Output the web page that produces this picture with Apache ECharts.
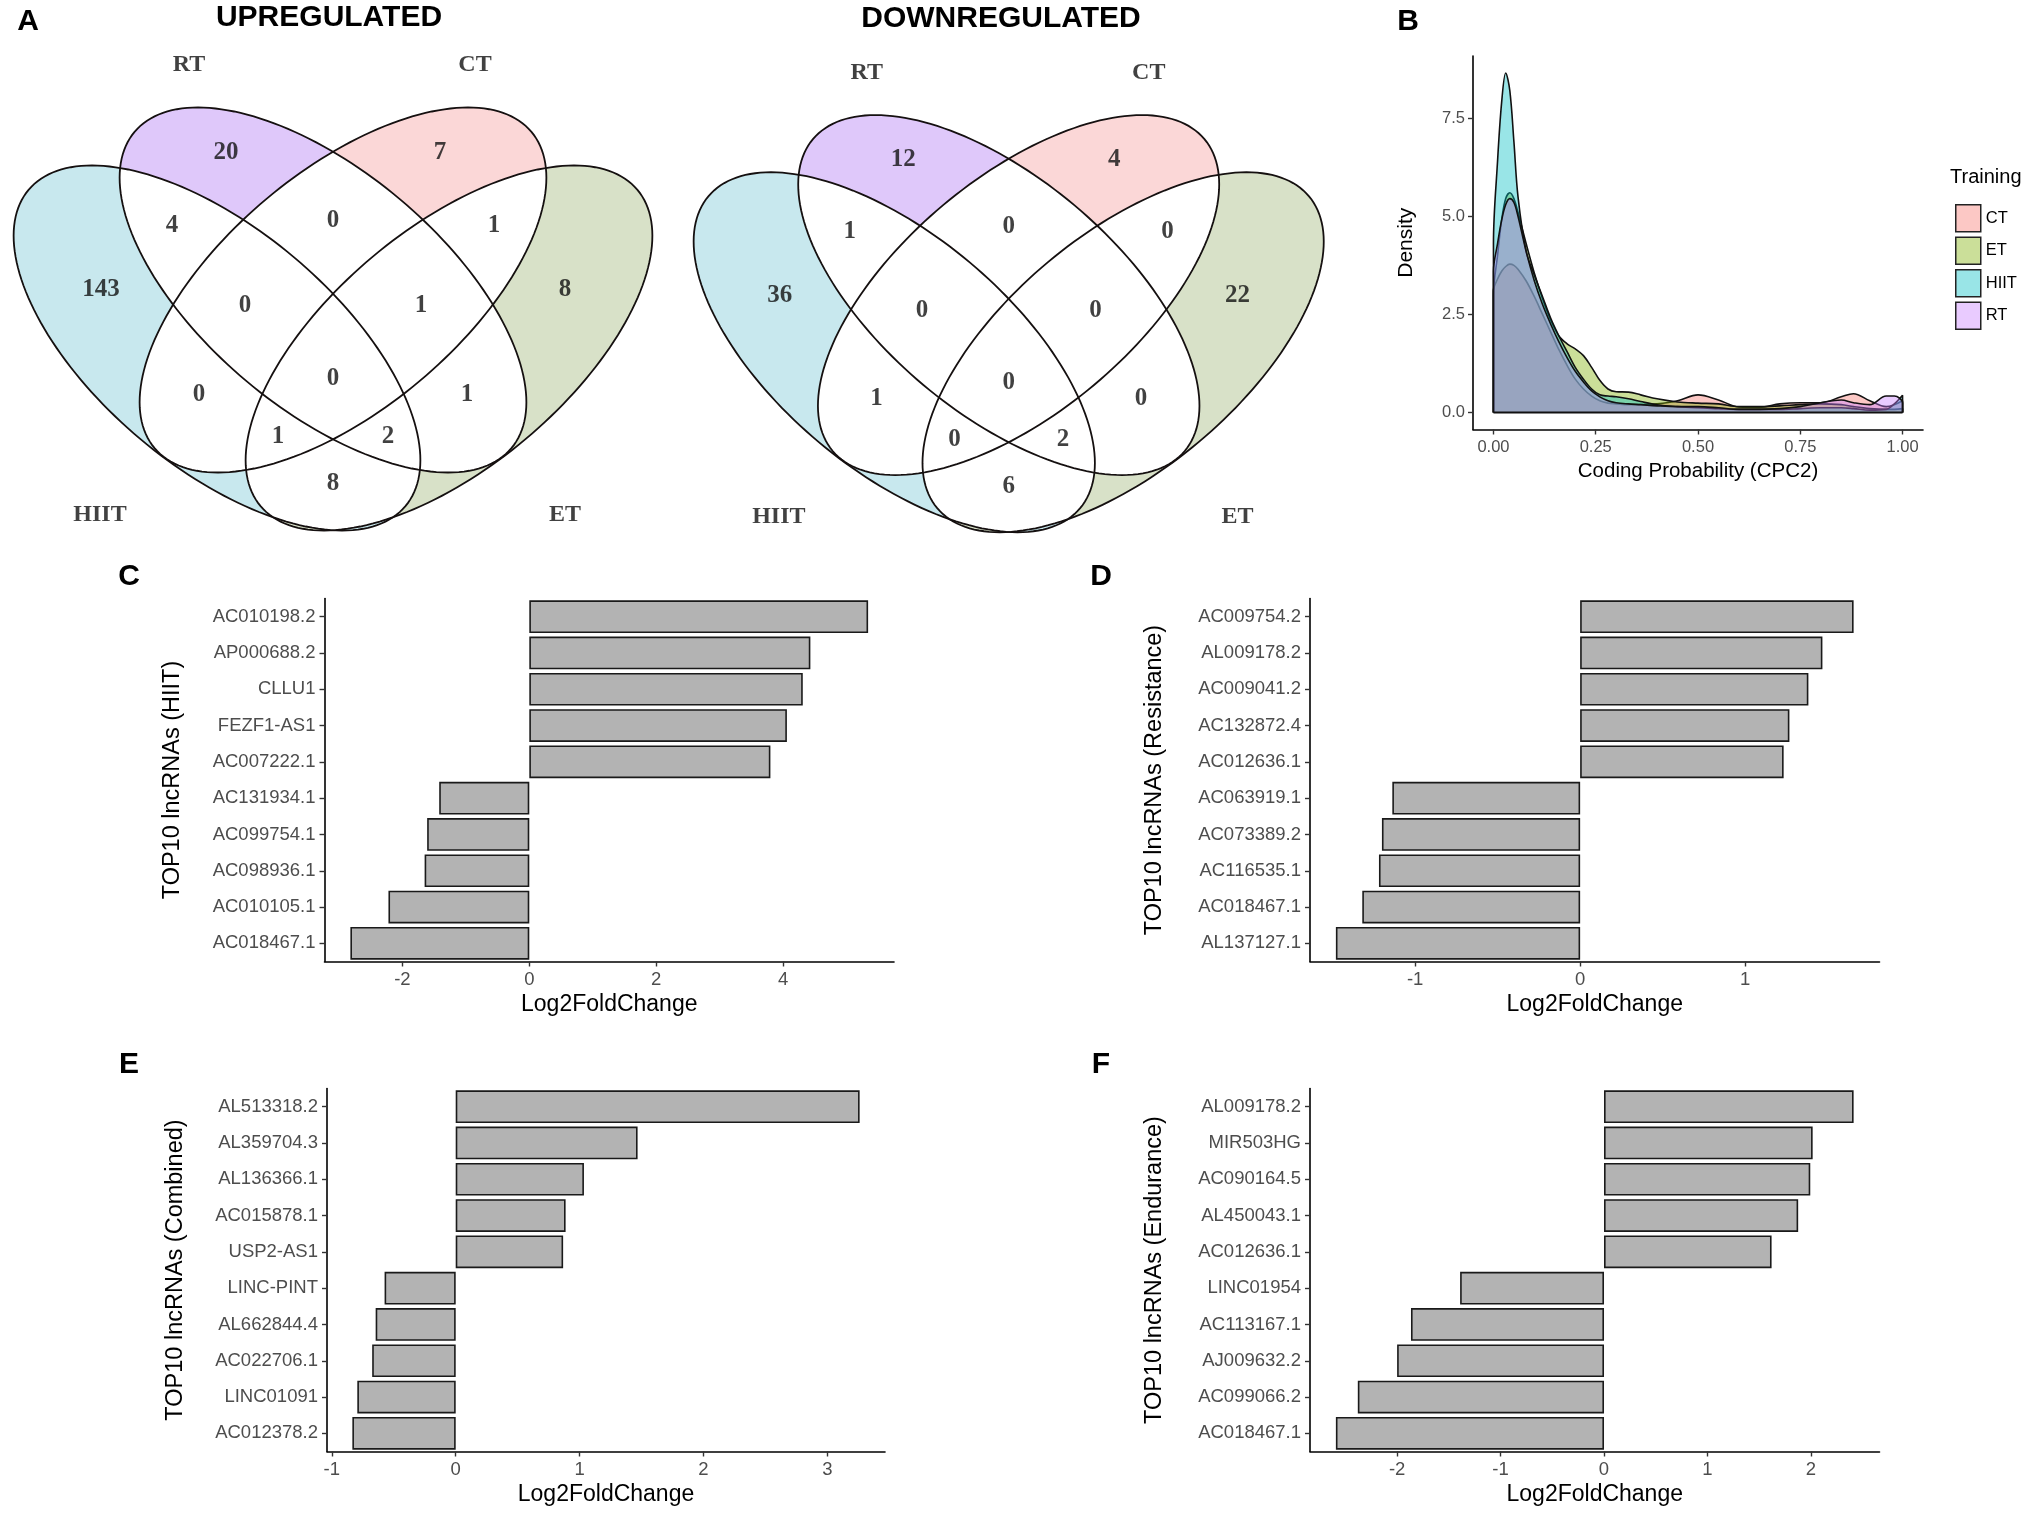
<!DOCTYPE html>
<html><head><meta charset="utf-8">
<script src="https://cdn.jsdelivr.net/npm/echarts/dist/echarts.min.js"></script>
<style>html,body{margin:0;padding:0;background:#fff}#c{width:2028px;height:1514px}</style>
</head><body><div id="c"></div>
<script>
// ================= DATA =================
const vennSetNames = ['HIIT', 'RT', 'CT', 'ET'];
const vennRegionNames = ['HIIT', 'RT', 'CT', 'ET', 'HIIT∩RT', 'RT∩CT', 'CT∩ET', 'HIIT∩RT∩CT', 'RT∩CT∩ET',
  'HIIT∩CT', 'HIIT∩RT∩CT∩ET', 'RT∩ET', 'HIIT∩CT∩ET', 'HIIT∩RT∩ET', 'HIIT∩ET'];
const upregulatedCounts   = [143, 20, 7, 8, 4, 0, 1, 0, 1, 0, 0, 1, 1, 2, 8];
const downregulatedCounts = [36, 12, 4, 22, 1, 0, 0, 0, 0, 1, 0, 0, 0, 2, 6];

const trainingGroups = ['CT', 'ET', 'HIIT', 'RT'];
const cpcX    = [0, 0.01, 0.02, 0.03, 0.04, 0.05, 0.06, 0.08, 0.10, 0.12, 0.14, 0.16, 0.18, 0.20, 0.22, 0.24, 0.26, 0.28, 0.30, 0.33, 0.36, 0.40, 0.45, 0.50, 0.55, 0.60, 0.65, 0.70, 0.75, 0.80, 0.85, 0.88, 0.92, 0.96, 0.98, 1.00];
const cpcCT   = [3.1, 3.4, 3.6, 3.72, 3.78, 3.75, 3.65, 3.35, 2.95, 2.5, 2.05, 1.6, 1.2, 0.85, 0.6, 0.42, 0.3, 0.24, 0.22, 0.2, 0.2, 0.22, 0.3, 0.45, 0.32, 0.14, 0.13, 0.22, 0.25, 0.25, 0.4, 0.48, 0.3, 0.15, 0.2, 0.3];
const cpcET   = [3.0, 4.0, 4.9, 5.45, 5.6, 5.45, 5.1, 4.3, 3.55, 2.9, 2.35, 1.95, 1.75, 1.62, 1.45, 1.15, 0.82, 0.6, 0.53, 0.52, 0.45, 0.35, 0.27, 0.24, 0.22, 0.15, 0.15, 0.17, 0.2, 0.22, 0.2, 0.15, 0.1, 0.08, 0.08, 0.1];
const cpcHIIT = [4.3, 6.4, 7.9, 8.65, 8.2, 6.9, 5.5, 4.1, 3.5, 2.95, 2.4, 1.95, 1.55, 1.15, 0.85, 0.6, 0.45, 0.42, 0.4, 0.35, 0.28, 0.2, 0.15, 0.12, 0.1, 0.08, 0.08, 0.08, 0.1, 0.12, 0.12, 0.1, 0.06, 0.08, 0.22, 0.44];
const cpcRT   = [3.6, 4.3, 4.9, 5.3, 5.45, 5.35, 5.0, 4.1, 3.35, 2.75, 2.25, 1.8, 1.4, 1.05, 0.78, 0.55, 0.4, 0.3, 0.25, 0.22, 0.2, 0.17, 0.15, 0.15, 0.12, 0.08, 0.08, 0.1, 0.15, 0.25, 0.32, 0.25, 0.2, 0.42, 0.42, 0.25];
const cpcXTicks = [0, 0.25, 0.5, 0.75, 1];
const cpcYTicks = [0, 2.5, 5, 7.5];

const hiitGenes = ['AC010198.2', 'AP000688.2', 'CLLU1', 'FEZF1-AS1', 'AC007222.1', 'AC131934.1', 'AC099754.1', 'AC098936.1', 'AC010105.1', 'AC018467.1'];
const hiitLFC   = [5.34, 4.43, 4.31, 4.06, 3.80, -1.42, -1.61, -1.65, -2.22, -2.82];
const hiitTicks = [-2, 0, 2, 4];

const resGenes = ['AC009754.2', 'AL009178.2', 'AC009041.2', 'AC132872.4', 'AC012636.1', 'AC063919.1', 'AC073389.2', 'AC116535.1', 'AC018467.1', 'AL137127.1'];
const resLFC   = [1.657, 1.468, 1.383, 1.268, 1.233, -1.138, -1.201, -1.219, -1.32, -1.48];
const resTicks = [-1, 0, 1];

const comGenes = ['AL513318.2', 'AL359704.3', 'AL136366.1', 'AC015878.1', 'USP2-AS1', 'LINC-PINT', 'AL662844.4', 'AC022706.1', 'LINC01091', 'AC012378.2'];
const comLFC   = [3.26, 1.468, 1.035, 0.887, 0.867, -0.574, -0.646, -0.674, -0.794, -0.834];
const comTicks = [-1, 0, 1, 2, 3];

const endGenes = ['AL009178.2', 'MIR503HG', 'AC090164.5', 'AL450043.1', 'AC012636.1', 'LINC01954', 'AC113167.1', 'AJ009632.2', 'AC099066.2', 'AC018467.1'];
const endLFC   = [2.413, 2.017, 1.994, 1.877, 1.62, -1.391, -1.866, -2.0, -2.38, -2.592];
const endTicks = [-2, -1, 0, 1, 2];

// ================= LAYOUT / STYLE =================
const FONT = 'Liberation Sans';
const VENN_W = 680, VENN_H = 560;
const ELL_A = 246, ELL_B = 119;
const ELLIPSES = [[217, 348, 40], [323, 290, 40], [343, 290, -40], [449, 348, -40]]; // HIIT, RT, CT, ET  (cx, cy, rotation)
const ELL_FILL = ['#c8e8ee', '#dfc8fa', '#fbd7d7', '#d8e1c8'];
const REGION_POS = [[101, 290], [226, 153], [440, 153], [565, 290], [172, 226], [333, 221], [494, 226], [245, 306], [421, 306],
  [199, 395], [333, 379], [467, 395], [278, 437], [388, 437], [333, 484]];
const SET_LABEL_POS = [[100, 515], [189, 65], [475, 65], [565, 515]];
const GROUP_FILL = ['rgba(248,118,109,0.4)', 'rgba(124,174,0,0.4)', 'rgba(0,191,196,0.4)', 'rgba(199,124,255,0.4)'];

const grids = [
  { left: 0, top: 0, width: 680, height: 560 },
  { left: 680.2, top: 9.1, width: 670.8, height: 552.2 },
  { left: 1473, top: 56, width: 450, height: 373.5 },
  { left: 324.5, top: 598.5, width: 569.5, height: 363 },
  { left: 1310, top: 598.5, width: 569.5, height: 363 },
  { left: 327, top: 1088.5, width: 558, height: 363 },
  { left: 1310, top: 1088.5, width: 569.5, height: 363 }
].map(g => Object.assign({ containLabel: false, outerBoundsMode: 'none' }, g));

function ellipsePts(e) {
  const n = 180, r = e[2] * Math.PI / 180, c = Math.cos(r), s = Math.sin(r), pts = [];
  for (let i = 0; i < n; i++) {
    const t = 2 * Math.PI * i / n, x = ELL_A * Math.cos(t), y = ELL_B * Math.sin(t);
    pts.push([e[0] + x * c - y * s, e[1] + x * s + y * c]);
  }
  return pts;
}
function clipPoly(subject, clip) {
  let area = 0;
  for (let i = 0; i < clip.length; i++) { const p = clip[i], q = clip[(i + 1) % clip.length]; area += p[0] * q[1] - q[0] * p[1]; }
  const sg = area > 0 ? 1 : -1;
  let out = subject;
  for (let i = 0; i < clip.length && out.length; i++) {
    const A = clip[i], B = clip[(i + 1) % clip.length];
    const inside = p => sg * ((B[0] - A[0]) * (p[1] - A[1]) - (B[1] - A[1]) * (p[0] - A[0])) >= 0;
    const inter = (P, Q) => {
      const d = (P[0] - Q[0]) * (A[1] - B[1]) - (P[1] - Q[1]) * (A[0] - B[0]);
      const t = ((P[0] - A[0]) * (A[1] - B[1]) - (P[1] - A[1]) * (A[0] - B[0])) / d;
      return [P[0] + t * (Q[0] - P[0]), P[1] + t * (Q[1] - P[1])];
    };
    const inp = out; out = [];
    for (let j = 0; j < inp.length; j++) {
      const P = inp[j], Q = inp[(j + 1) % inp.length], pi = inside(P), qi = inside(Q);
      if (pi) out.push(P);
      if (pi !== qi) out.push(inter(P, Q));
    }
  }
  return out;
}
const PAIRS = [];
for (let i = 0; i < 4; i++) for (let j = i + 1; j < 4; j++) PAIRS.push([i, j]);

const xAxes = [], yAxes = [], series = [];

function vennPanel(gi, counts) {
  xAxes.push({ gridIndex: gi, type: 'value', min: 0, max: VENN_W, show: false });
  yAxes.push({ gridIndex: gi, type: 'value', min: 0, max: VENN_H, inverse: true, show: false });
  const base = { xAxisIndex: gi, yAxisIndex: gi, silent: true, animation: false };
  const ellData = vennSetNames.map((n, i) => ({ name: n, value: [i, 0] }));
  series.push(Object.assign({}, base, {
    type: 'custom', z: 1, data: ellData,
    renderItem: (p, api) => { const i = api.value(0); return { type: 'polygon', shape: { points: ellipsePts(ELLIPSES[i]).map(q => api.coord(q)) }, style: { fill: ELL_FILL[i] } }; }
  }));
  series.push(Object.assign({}, base, {
    type: 'custom', z: 2, data: PAIRS,
    renderItem: (p, api) => {
      const i = api.value(0), j = api.value(1);
      const poly = clipPoly(ellipsePts(ELLIPSES[i]), ellipsePts(ELLIPSES[j]));
      if (poly.length < 3) return null;
      return { type: 'polygon', shape: { points: poly.map(q => api.coord(q)) }, style: { fill: '#ffffff', stroke: '#ffffff', lineWidth: 0.6 } };
    }
  }));
  series.push(Object.assign({}, base, {
    type: 'custom', z: 3, data: ellData,
    renderItem: (p, api) => { const i = api.value(0); return { type: 'polygon', shape: { points: ellipsePts(ELLIPSES[i]).map(q => api.coord(q)) }, style: { fill: null, stroke: '#151010', lineWidth: 1.8 } }; }
  }));
  series.push(Object.assign({}, base, {
    type: 'scatter', z: 4, symbolSize: 1, itemStyle: { color: 'rgba(0,0,0,0)' },
    data: REGION_POS.map((q, k) => ({ name: vennRegionNames[k], value: [q[0], q[1], counts[k]] })),
    label: { show: true, position: 'inside', formatter: d => String(d.value[2]), fontFamily: 'Liberation Serif', fontWeight: 'bold', fontSize: 25, color: '#111' }
  }));
  series.push(Object.assign({}, base, {
    type: 'scatter', z: 4, symbolSize: 1, itemStyle: { color: 'rgba(0,0,0,0)' },
    data: SET_LABEL_POS.map((q, k) => ({ name: vennSetNames[k], value: [q[0], q[1]] })),
    label: { show: true, position: 'inside', formatter: '{b}', fontFamily: 'Liberation Serif', fontWeight: 'bold', fontSize: 24, color: '#111' }
  }));
}
vennPanel(0, upregulatedCounts);
vennPanel(1, downregulatedCounts);

const axisLineStyle = { show: true, onZero: false, lineStyle: { color: '#000', width: 1.6 } };
const tickStyle = { color: '#333', width: 1.4 };

// ---- Panel B: density ----
xAxes.push({
  gridIndex: 2, type: 'value', min: -0.05, max: 1.05, splitLine: { show: false },
  axisLine: axisLineStyle,
  axisTick: { show: true, customValues: cpcXTicks, length: 5, lineStyle: tickStyle },
  axisLabel: { customValues: cpcXTicks, formatter: v => v.toFixed(2), margin: 9, fontSize: 16.5, color: '#4d4d4d', fontFamily: FONT },
  name: 'Coding Probability (CPC2)', nameLocation: 'middle', nameGap: 31, nameMoveOverlap: false,
  nameTextStyle: { fontSize: 20.5, color: '#000', fontFamily: FONT }
});
const allDens = [].concat(cpcCT, cpcET, cpcHIIT, cpcRT);
const dMax = Math.max(...allDens);
yAxes.push({
  gridIndex: 2, type: 'value', min: -0.05 * dMax, max: 1.05 * dMax, splitLine: { show: false },
  axisLine: axisLineStyle,
  axisTick: { show: true, customValues: cpcYTicks, length: 5, lineStyle: tickStyle },
  axisLabel: { customValues: cpcYTicks, formatter: v => v.toFixed(1), margin: 8, fontSize: 16.5, color: '#4d4d4d', fontFamily: FONT },
  name: 'Density', nameLocation: 'middle', nameGap: 56, nameMoveOverlap: false,
  nameTextStyle: { fontSize: 21, color: '#000', fontFamily: FONT }
});
[cpcCT, cpcET, cpcHIIT, cpcRT].forEach((ys, k) => {
  series.push({
    name: trainingGroups[k], type: 'line', xAxisIndex: 2, yAxisIndex: 2, z: 5 + k, smooth: 0.35, symbol: 'none',
    color: GROUP_FILL[k], itemStyle: { color: GROUP_FILL[k] },
    lineStyle: { color: '#111', width: 1.6 },
    areaStyle: { color: GROUP_FILL[k], opacity: 1, origin: 0 },
    data: [[cpcX[0], 0]].concat(cpcX.map((x, i) => [x, ys[i]]), [[cpcX[cpcX.length - 1], 0]])
  });
});
series.push({
  type: 'line', xAxisIndex: 2, yAxisIndex: 2, z: 10, symbol: 'none', silent: true,
  lineStyle: { color: '#111', width: 2 }, data: [[cpcX[0], 0], [cpcX[cpcX.length - 1], 0]]
});

// ---- Panels C-F: bars ----
function barPanel(gi, genes, vals, ticks, title, yGap) {
  const lo = Math.min(0, ...vals), hi = Math.max(0, ...vals), pad = (hi - lo) * 0.05;
  xAxes.push({
    gridIndex: gi, type: 'value', min: lo - pad, max: hi + pad, splitLine: { show: false },
    axisLine: axisLineStyle,
    axisTick: { show: true, customValues: ticks, length: 5, lineStyle: tickStyle },
    axisLabel: { customValues: ticks, formatter: v => String(v), margin: 9, fontSize: 18.5, color: '#4d4d4d', fontFamily: FONT },
    name: 'Log2FoldChange', nameLocation: 'middle', nameGap: 32, nameMoveOverlap: false,
    nameTextStyle: { fontSize: 23, color: '#000', fontFamily: FONT }
  });
  yAxes.push({
    gridIndex: gi, type: 'category', data: genes, inverse: true,
    axisLine: axisLineStyle,
    axisTick: { show: true, alignWithLabel: true, length: 5, lineStyle: tickStyle },
    axisLabel: { margin: 9, fontSize: 18.5, color: '#4d4d4d', fontFamily: FONT, interval: 0 },
    splitLine: { show: false },
    name: title, nameLocation: 'middle', nameGap: yGap, nameRotate: 90, nameMoveOverlap: false,
    nameTextStyle: { fontSize: 23.5, color: '#000', fontFamily: FONT }
  });
  series.push({
    type: 'bar', xAxisIndex: gi, yAxisIndex: gi, data: vals, barWidth: '90%', silent: true,
    itemStyle: { color: '#b3b3b3', borderColor: '#1a1a1a', borderWidth: 1.6 }
  });
}
barPanel(3, hiitGenes, hiitLFC, hiitTicks, 'TOP10 lncRNAs (HIIT)', 140);
barPanel(4, resGenes, resLFC, resTicks, 'TOP10 lncRNAs (Resistance)', 143);
barPanel(5, comGenes, comLFC, comTicks, 'TOP10 lncRNAs (Combined)', 139);
barPanel(6, endGenes, endLFC, endTicks, 'TOP10 lncRNAs (Endurance)', 143);

function label(text, x, y, font) {
  return { type: 'text', x: x, y: y, silent: true,
    style: { text: text, font: font, fill: '#000', align: 'center', verticalAlign: 'middle', textAlign: 'center', textVerticalAlign: 'middle' } };
}
const letterFont = 'bold 30px "Liberation Sans"';
const graphic = [
  label('A', 28, 21.5, letterFont),
  label('B', 1408, 21.5, letterFont),
  label('C', 129, 577, letterFont),
  label('D', 1101, 577, letterFont),
  label('E', 129, 1065, letterFont),
  label('F', 1101, 1065, letterFont),
  label('UPREGULATED', 329, 18, 'bold 30px "Liberation Sans"'),
  label('DOWNREGULATED', 1001, 19, 'bold 30px "Liberation Sans"'),
  { type: 'text', x: 1950, y: 177, silent: true,
    style: { text: 'Training', font: '20px "Liberation Sans"', fill: '#000', align: 'left', verticalAlign: 'middle', textAlign: 'left', textVerticalAlign: 'middle' } }
];

const chart = echarts.init(document.getElementById('c'), null, { renderer: 'canvas' });
chart.setOption({
  backgroundColor: '#ffffff',
  animation: false,
  textStyle: { fontFamily: FONT },
  grid: grids,
  xAxis: xAxes,
  yAxis: yAxes,
  legend: {
    left: 1950, top: 199, orient: 'vertical', icon: 'rect', itemWidth: 25, itemHeight: 27, itemGap: 4,
    selectedMode: false, data: trainingGroups,
    textStyle: { fontSize: 16.5, color: '#000', fontFamily: FONT },
    itemStyle: { borderColor: '#222', borderWidth: 1.5 }
  },
  graphic: graphic,
  series: series
});
</script></body></html>
